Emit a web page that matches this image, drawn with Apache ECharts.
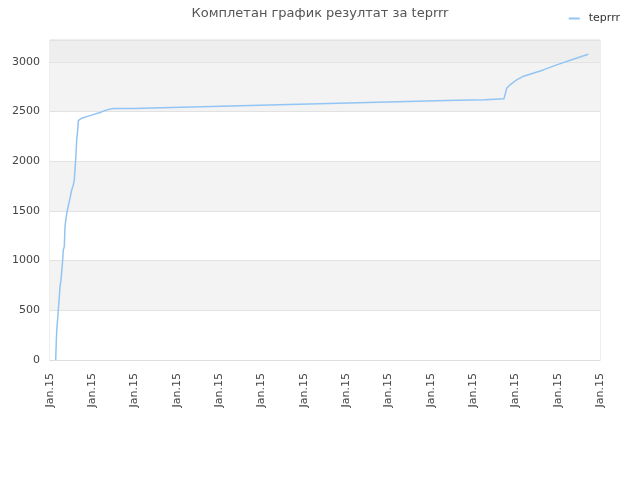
<!DOCTYPE html>
<html>
<head>
<meta charset="utf-8">
<script src="https://cdn.jsdelivr.net/npm/echarts@6/dist/echarts.min.js"></script>
<style>
  html, body { margin: 0; padding: 0; background: #fff; }
  #chart { width: 640px; height: 480px; }
</style>
</head>
<body>
<div id="chart"></div>
<script>
const title = "Комплетан график резултат за teprrr";
const seriesName = "teprrr";
const xTickLabel = "Jan.15";

// x in tick units (0..13), y is the cumulative result
const xValues = [
  0.135, 0.142, 0.158, 0.196, 0.22, 0.236, 0.26, 0.277, 0.30, 0.314,
  0.338, 0.355, 0.378, 0.402, 0.433, 0.473, 0.513, 0.551, 0.574, 0.591,
  0.607, 0.631, 0.655, 0.669, 0.749, 0.945, 1.182, 1.34, 1.496,
  1.955, 1.969, 2.876, 2.89, 3.805, 3.82, 4.727, 4.74, 5.649, 5.66,
  6.594, 6.61, 7.516, 7.53, 8.438, 8.45, 9.36, 9.375, 10.281, 10.295,
  10.73, 10.755, 10.794, 10.872, 11.03, 11.172, 11.345, 11.659, 11.976,
  12.368, 12.723
];
const yValues = [
  0, 100, 285, 503, 637, 738, 805, 889, 1007, 1107,
  1141, 1342, 1426, 1493, 1550, 1628, 1711, 1762, 1812, 1913,
  2013, 2215, 2315, 2409, 2433, 2459, 2490, 2517, 2530,
  2530, 2540, 2540, 2550, 2550, 2560, 2560, 2570, 2570, 2580,
  2580, 2590, 2590, 2600, 2600, 2610, 2610, 2620, 2620, 2630,
  2630, 2668, 2735, 2768, 2819, 2852, 2876, 2919, 2970,
  3027, 3077
];

const yMax = 3220;
const bandColors = ['#ffffff', '#f3f3f3', '#ffffff', '#f3f3f3', '#ffffff', '#f3f3f3', '#eeeeee'];

const points = xValues.map((x, i) => [x, yValues[i]]);

const chart = echarts.init(document.getElementById('chart'));
chart.setOption({
  animation: false,
  title: {
    text: title,
    left: 'center',
    top: 2,
    textStyle: { fontFamily: 'DejaVu Sans', fontSize: 13, fontWeight: 'normal', color: '#555' }
  },
  legend: {
    right: 15,
    top: 8,
    icon: 'rect',
    itemWidth: 11,
    itemHeight: 2,
    itemGap: 6,
    textStyle: { fontFamily: 'DejaVu Sans', fontSize: 11, color: '#333', padding: [0, 0, 0, 4] },
    data: [seriesName]
  },
  grid: {
    left: 50, right: 40, top: 40, bottom: 120,
    show: true, borderColor: '#dddddd', borderWidth: 1
  },
  xAxis: {
    type: 'value',
    min: 0, max: 13, interval: 1,
    axisLine: { show: true, lineStyle: { color: '#dddddd' } },
    axisTick: { show: false },
    splitLine: { show: false },
    axisLabel: {
      rotate: 90,
      margin: 13,
      formatter: () => xTickLabel,
      fontFamily: 'DejaVu Sans', fontSize: 11, color: '#444'
    }
  },
  yAxis: {
    type: 'value',
    min: 0, max: yMax, interval: 500,
    axisLine: { show: false },
    axisTick: { show: false },
    axisLabel: {
      showMaxLabel: false,
      margin: 10,
      formatter: (v) => String(v),
      fontFamily: 'DejaVu Sans', fontSize: 11, color: '#444'
    },
    splitLine: { show: true, lineStyle: { color: '#e2e2e2' } },
    splitArea: { show: true, areaStyle: { color: bandColors } }
  },
  series: [{
    name: seriesName,
    type: 'line',
    data: points,
    showSymbol: false,
    symbol: 'none',
    lineStyle: { color: '#92c5f4', width: 1.5 },
    itemStyle: { color: '#92c5f4' }
  }]
});
</script>
</body>
</html>
